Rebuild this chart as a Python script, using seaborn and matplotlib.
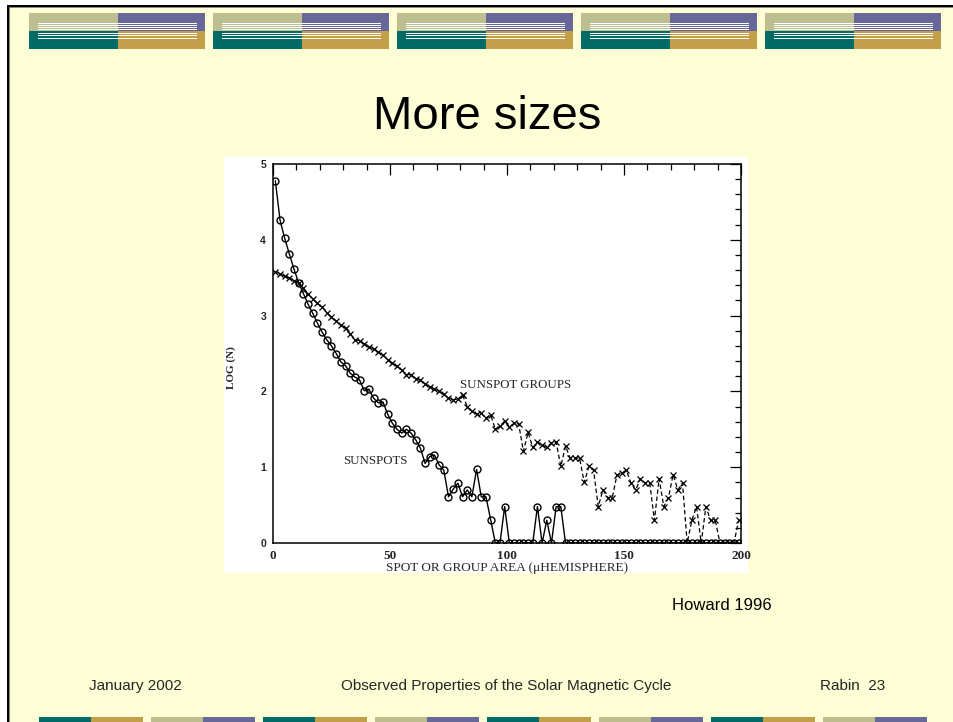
import matplotlib
matplotlib.use("Agg")
import matplotlib.pyplot as plt
import seaborn as sns
import pandas as pd
from matplotlib.patches import Rectangle
from matplotlib.ticker import MultipleLocator

# ---------------- data ----------------
area = list(range(1, 200, 2))  # bin centres, micro-hemispheres

sunspots = [4.78, 4.26, 4.02, 3.81, 3.61, 3.43, 3.29, 3.15, 3.03, 2.90,
            2.78, 2.68, 2.60, 2.50, 2.39, 2.34, 2.24, 2.19, 2.15, 2.01,
            2.03, 1.91, 1.85, 1.86, 1.70,
            1.58, 1.50, 1.45, 1.50, 1.45, 1.36, 1.25, 1.05, 1.14, 1.16,
            1.03, 0.96, 0.61, 0.71, 0.79, 0.61, 0.70, 0.61, 0.97, 0.61,
            0.61, 0.31, 0.00, 0.00, 0.48,
            0.00, 0.00, 0.00, 0.00, 0.00, 0.00, 0.48, 0.00, 0.30, 0.00,
            0.48, 0.48, 0.00, 0.00, 0.00, 0.00, 0.00, 0.00, 0.00, 0.00,
            0.00, 0.00, 0.00, 0.00, 0.00,
            0.00, 0.00, 0.00, 0.00, 0.00, 0.00, 0.00, 0.00, 0.00, 0.00,
            0.00, 0.00, 0.00, 0.00, 0.00, 0.00, 0.00, 0.00, 0.00, 0.00,
            0.00, 0.00, 0.00, 0.00, 0.00]

groups = [3.58, 3.55, 3.52, 3.50, 3.46, 3.43, 3.36, 3.28, 3.22, 3.16,
          3.11, 3.04, 2.98, 2.93, 2.87, 2.83, 2.76, 2.68, 2.67, 2.63,
          2.59, 2.56, 2.52, 2.48, 2.42,
          2.37, 2.33, 2.28, 2.22, 2.22, 2.17, 2.15, 2.10, 2.06, 2.03,
          2.00, 1.96, 1.91, 1.89, 1.90, 1.95, 1.80, 1.74, 1.70, 1.71,
          1.65, 1.69, 1.50, 1.54, 1.61,
          1.53, 1.58, 1.57, 1.21, 1.46, 1.26, 1.33, 1.29, 1.26, 1.32,
          1.33, 1.01, 1.28, 1.12, 1.12, 1.12, 0.80, 1.01, 0.96, 0.48,
          0.70, 0.60, 0.60, 0.90, 0.92,
          0.96, 0.79, 0.70, 0.85, 0.79, 0.79, 0.30, 0.85, 0.48, 0.60,
          0.90, 0.70, 0.79, 0.00, 0.30, 0.48, 0.00, 0.48, 0.30, 0.30,
          0.00, 0.00, 0.00, 0.00, 0.30]

solid_until = 81  # groups curve drawn solid up to here, dashed beyond

x_ticks = [0, 50, 100, 150, 200]
y_ticks = [0, 1, 2, 3, 4, 5]

title = "More sizes"
x_label = "SPOT OR GROUP AREA (\u03bcHEMISPHERE)"
y_label = "LOG (N)"
source = "Howard 1996"
footer_left = "January 2002"
footer_mid = "Observed Properties of the Solar Magnetic Cycle"
footer_right = "Rabin  23"

# ---------------- styling ----------------
sns.set_style("white")
plt.rcParams["font.family"] = ["Liberation Sans", "DejaVu Sans"]

W, H = 954, 722
fig = plt.figure(figsize=(W / 100, H / 100), dpi=100)
fig.patch.set_facecolor("white")

# slide background in pixel coordinates
bg = fig.add_axes([0, 0, 1, 1])
bg.set_xlim(0, W)
bg.set_ylim(H, 0)
bg.axis("off")

SLIDE = "#FDFDD6"
KHAKI = "#BCBE90"
PURPLE = "#676798"
TEAL = "#006A66"
GOLD = "#C29E4A"

bg.add_patch(Rectangle((7, 5), W - 7, H - 5, color=SLIDE, lw=0))
bg.add_patch(Rectangle((7, 5), 2, H - 5, color="black", lw=0))
bg.add_patch(Rectangle((7, 5), W - 7, 2, color="black", lw=0))
bg.add_patch(Rectangle((9, 7), 0.8, H - 7, color="#888888", lw=0))
bg.add_patch(Rectangle((9, 7), W - 9, 0.8, color="#888888", lw=0))

# header blocks
for i in range(5):
    x0 = 29 + 184 * i
    bg.add_patch(Rectangle((x0, 13), 89, 18, color=KHAKI, lw=0))
    bg.add_patch(Rectangle((x0 + 89, 13), 87, 18, color=PURPLE, lw=0))
    bg.add_patch(Rectangle((x0, 31), 89, 18, color=TEAL, lw=0))
    bg.add_patch(Rectangle((x0 + 89, 31), 87, 18, color=GOLD, lw=0))
    for yy in [22.8, 24.8, 26.8, 28.8, 32.8, 34.8, 37.8]:
        bg.add_patch(Rectangle((x0 + 9, yy), 159, 1.0, color="white", lw=0))

# footer bars
for k in range(8):
    x0 = 39 + 112 * k
    c1, c2 = (TEAL, GOLD) if k % 2 == 0 else (KHAKI, PURPLE)
    bg.add_patch(Rectangle((x0, 717), 52, 6, color=c1, lw=0))
    bg.add_patch(Rectangle((x0 + 52, 717), 52, 6, color=c2, lw=0))

# white scanned-figure area
bg.add_patch(Rectangle((224, 157), 524, 416, color="white", lw=0))

bg.text(487, 117, title, ha="center", va="center", fontsize=34,
        color="black")
bg.text(722, 605, source, ha="center", va="center", fontsize=12,
        color="black")
bg.text(135, 686, footer_left, ha="center", va="center", fontsize=11)
bg.text(506, 686, footer_mid, ha="center", va="center", fontsize=11)
bg.text(853, 686, footer_right, ha="center", va="center", fontsize=11)
bg.text(231, 368, y_label, ha="center", va="center", rotation=90,
        fontsize=8, fontweight="bold", family=["Liberation Serif"])

# ---------------- chart ----------------
ax = fig.add_axes([273 / W, 1 - 543 / H, 468 / W, 379 / H])
ax.set_facecolor("white")

df_spots = pd.DataFrame({"area": area, "logN": sunspots})
df_groups = pd.DataFrame({"area": area, "logN": groups})
g_solid = df_groups[df_groups["area"] <= solid_until]
g_dash = df_groups[df_groups["area"] >= solid_until]

sns.lineplot(data=df_spots, x="area", y="logN", ax=ax, color="black",
             lw=1.0, marker="o", markersize=5, markerfacecolor="none",
             markeredgecolor="black", markeredgewidth=1.0, sort=False)
sns.lineplot(data=g_solid, x="area", y="logN", ax=ax, color="black",
             lw=0.8, marker="x", markersize=4, markeredgewidth=0.9,
             markeredgecolor="black", sort=False)
sns.lineplot(data=g_dash, x="area", y="logN", ax=ax, color="black",
             lw=0.9, marker="x", markersize=4, markeredgewidth=0.9,
             markeredgecolor="black", linestyle=(0, (3.5, 2.2)), sort=False)

ax.set_xlim(0, 200)
ax.set_ylim(0, 5)
ax.set_xticks(x_ticks)
ax.set_yticks(y_ticks)
ax.xaxis.set_minor_locator(MultipleLocator(10))
ax.yaxis.set_minor_locator(MultipleLocator(0.2))
ax.tick_params(which="both", direction="in", top=True, right=True,
               color="black", width=0.9)
ax.tick_params(which="major", length=8)
ax.tick_params(which="minor", length=4)
ax.tick_params(axis="x", pad=5)
ax.tick_params(axis="y", pad=5)
for lab in ax.get_xticklabels():
    lab.set_fontfamily("Liberation Serif")
    lab.set_fontweight("bold")
    lab.set_fontsize(9.5)
for lab in ax.get_yticklabels():
    lab.set_fontfamily("Liberation Sans")
    lab.set_fontweight("bold")
    lab.set_fontsize(7.5)
for sp in ax.spines.values():
    sp.set_visible(True)
    sp.set_color("black")
    sp.set_linewidth(1.1)

ax.set_xlabel(x_label, fontsize=9.5, family="Liberation Serif", labelpad=0)
ax.set_ylabel("")

ax.text(80, 2.08, "SUNSPOT GROUPS", fontsize=9.3, family="Liberation Serif",
        ha="left", va="center")
ax.text(30, 1.08, "SUNSPOTS", fontsize=9.3, family="Liberation Serif",
        ha="left", va="center")

fig.savefig("out.png", dpi=100, facecolor=fig.get_facecolor())
